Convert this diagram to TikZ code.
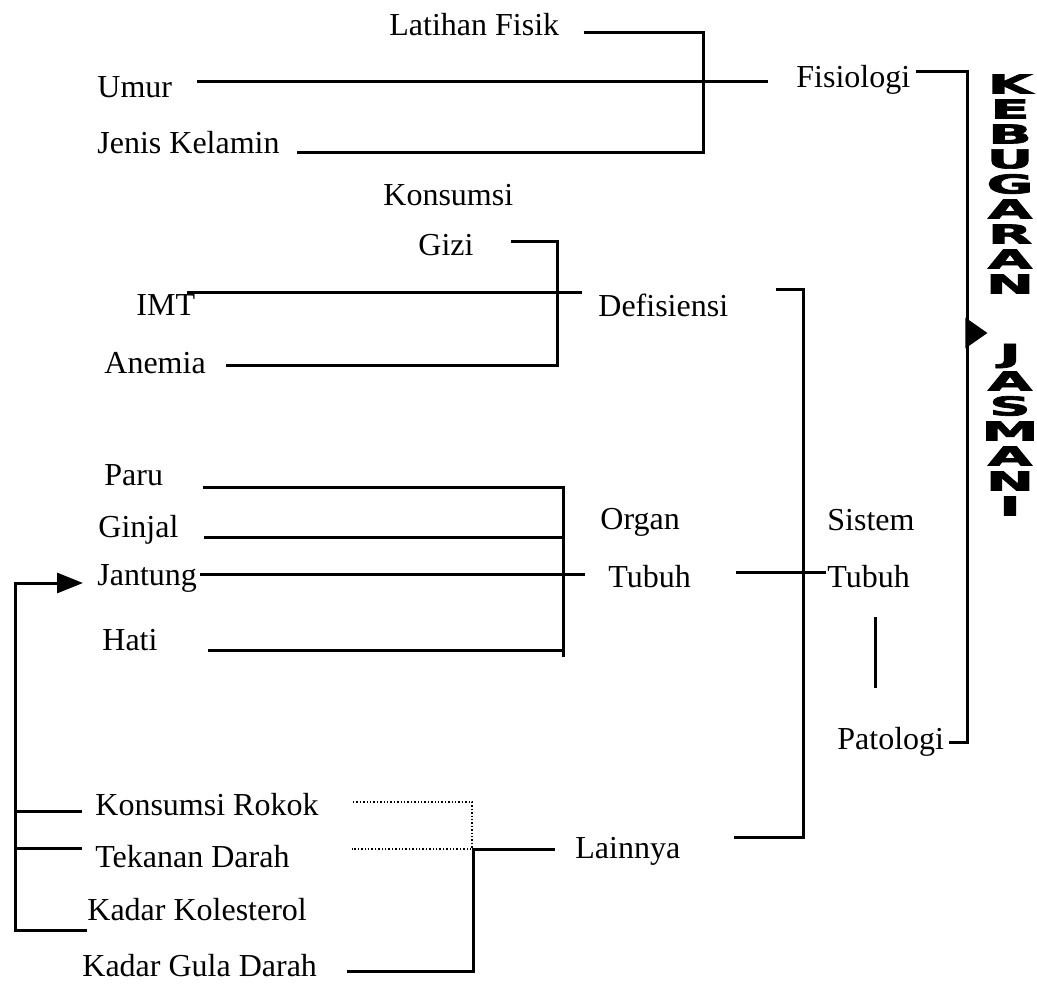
\documentclass[tikz,border=0pt]{standalone}
\usepackage{fontspec}
\setmainfont{Liberation Serif}
\newfontfamily\blockfont{DejaVu Sans}[BoldFeatures={FakeBold=2.5}]
\usetikzlibrary{arrows.meta}

\tikzset{
  lbl/.style={anchor=west, inner sep=0pt},
  link/.style={line width=1.5pt},
  dotlink/.style={densely dotted, line width=0.7pt},
  blockletter/.style={inner sep=0pt, font=\blockfont\bfseries\fontsize{13}{13}\selectfont}
}

\begin{document}
\begin{tikzpicture}[x=0.5pt, y=-0.5pt, font=\fontsize{16}{19}\selectfont]
\useasboundingbox (0,0) rectangle (1037,988);

% fisiologi
\node[lbl] (lat) at (389,25) {Latihan Fisik};
\node[lbl] (umur) at (97,87) {Umur};
\node[lbl] (jk) at (97,143) {Jenis Kelamin};
\node[lbl] (fis) at (796,80) {Fisiologi};

% defisiensi
\node[lbl] (kons) at (383,195) {Konsumsi};
\node[lbl] (gizi) at (418,245) {Gizi};
\node[lbl] (imt) at (136,305) {IMT};
\node[lbl] (anem) at (104,363) {Anemia};
\node[lbl] (def) at (598,305) {Defisiensi};

% organ tubuh
\node[lbl] (paru) at (104,475) {Paru};
\node[lbl] (ginjal) at (98,530) {Ginjal};
\node[lbl] (jantung) at (97,578) {Jantung};
\node[lbl] (hati) at (102,640) {Hati};
\node[lbl] (organ) at (600,522) {Organ};
\node[lbl] (otubuh) at (608,577) {Tubuh};

% sistem tubuh
\node[lbl] (sistem) at (827,520) {Sistem};
\node[lbl] (stubuh) at (827,577) {Tubuh};
\node[lbl] (pato) at (837,742) {Patologi};

% lainnya
\node[lbl] (rokok) at (95,805) {Konsumsi Rokok};
\node[lbl] (tekanan) at (95,857) {Tekanan Darah};
\node[lbl] (kolest) at (87,910) {Kadar Kolesterol};
\node[lbl] (gula) at (82,966) {Kadar Gula Darah};
\node[lbl] (lain) at (575,851) {Lainnya};

% kebugaran jasmani
\foreach \ch [count=\i] in {K,E,B,U,G,A,R,A,N}
  \node[blockletter] (kb\i) at (1010,59+25*\i) {\scalebox{2.2}[1]{\ch}};
\foreach \ch [count=\i] in {J,A,S,M,A,N,I}
  \node[blockletter] (kj\i) at (1010,331+25*\i) {\scalebox{2.2}[1]{\ch}};

\coordinate (jlat) at (703,153);
\coordinate (jgz) at (557,366);
\coordinate (jorg) at (563,657);
\coordinate (jsys) at (803,837);
\coordinate (jright) at (967,742);
\coordinate (jarr) at (967,333);
\coordinate (jdot) at (472,849);
\coordinate (jlain) at (473,849);
\coordinate (lbot) at (15,930);

% connectors
\draw[link] ([shift={(24,8)}]lat.east) -| (jlat) -- ([shift={(17,10)}]jk.east);
\draw[link] ([shift={(25,-5)}]umur.east) -- ([shift={(-28,2)}]fis.west);
\draw[link] ([shift={(5,-8)}]fis.east) -| (jright) -- ([shift={(5,0)}]pato.east);
\draw[link,-{Triangle[length=11pt,width=15pt]}] (jarr) -- (jarr -| kb1.west);

\draw[link] ([shift={(37,-3)}]gizi.east) -| (jgz) -- ([shift={(20,3)}]anem.east);
\draw[link] ([shift={(-8,-12)}]imt.east) -- ([shift={(-16,-12)}]def.west);
\draw[link] ([shift={(47,-15)}]def.east) -| (jsys) -- ([shift={(53,-14)}]lain.east);

\draw[link] ([shift={(40,12)}]paru.east) -| (jorg);
\draw[link] ([shift={(25,7)}]ginjal.east) -| (jorg);
\draw[link] ([shift={(50,10)}]hati.east) -| (jorg);
\draw[link] ([shift={(3,-4)}]jantung.east) -- ([shift={(-23,-3)}]otubuh.west);
\draw[link] ([shift={(45,-5)}]otubuh.east) -- ([shift={(-1,-5)}]stubuh.west);
\draw[link] ([shift={(48,40)}]stubuh.west) -- ++(0,71);

\draw[dotlink] ([shift={(34,-3)}]rokok.east) -| (jdot) -- ([shift={(62,-8)}]tekanan.east);
\draw[link] ([shift={(30,5)}]gula.east) -| (jlain) -- ([shift={(-20,-2)}]lain.west);

\draw[link] ([shift={(-13,6)}]rokok.west) -| (lbot);
\draw[link] ([shift={(-13,-9)}]tekanan.west) -| (lbot);
\draw[link,-{Triangle[length=13pt,width=10pt]}] ([shift={(0,20)}]kolest.west) -- (lbot) |- ([shift={(-14,5)}]jantung.west);
\end{tikzpicture}
\end{document}
